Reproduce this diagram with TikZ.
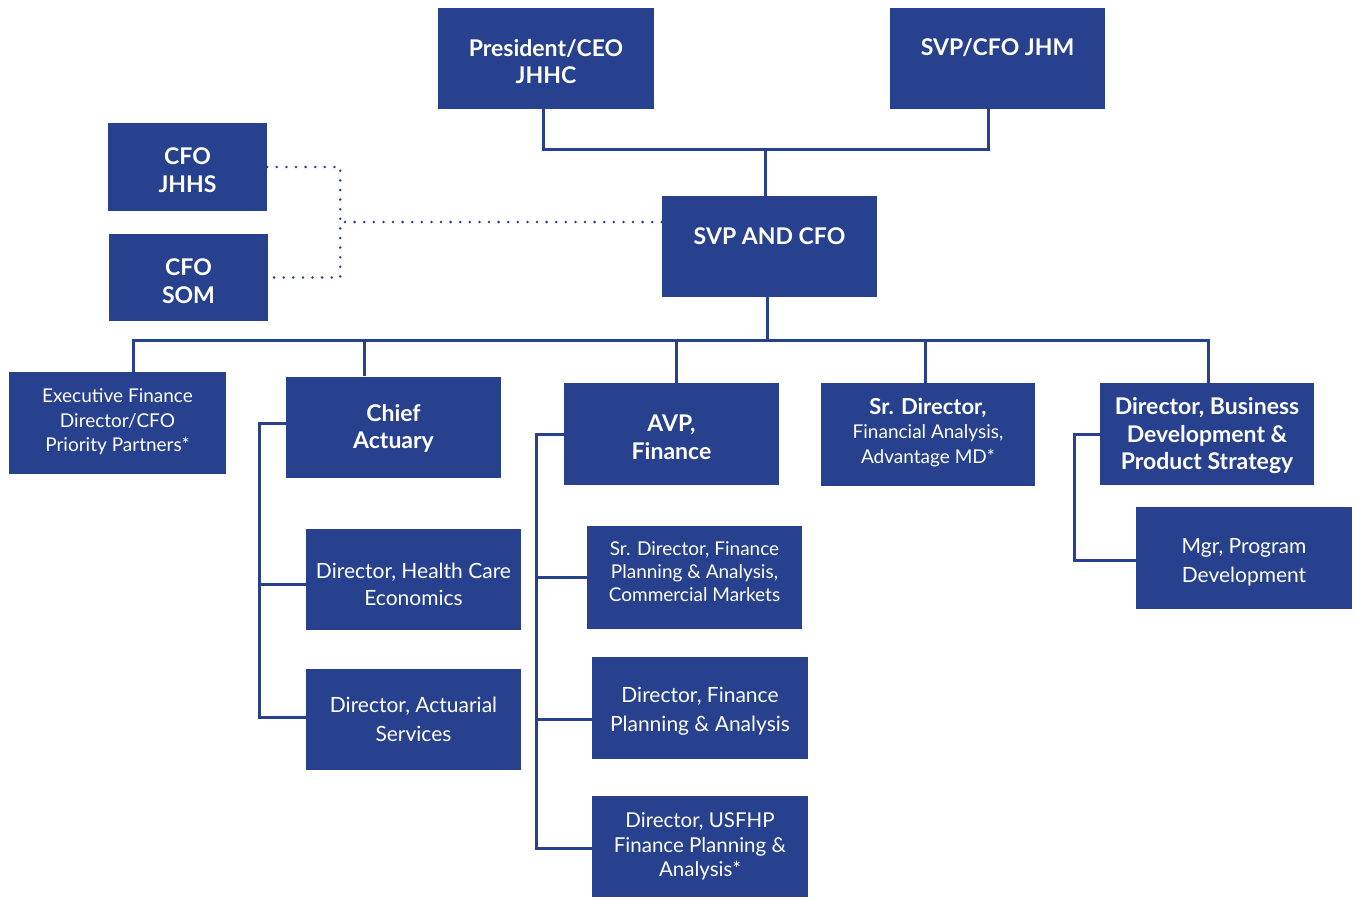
\documentclass[tikz,border=0pt]{standalone}
\usepackage{fontspec}
\setmainfont{Lato}
\definecolor{jhblue}{RGB}{39,65,142}
\tikzset{
  bx/.style={fill=jhblue, draw=none, inner sep=0pt},
  rtxt/.style={text=white, align=center, inner sep=0pt, font=\fontsize{19}{24.5}\selectfont},
  btxt/.style={text=white, align=center, inner sep=0pt, font=\fontsize{23}{27.5}\selectfont\bfseries},
  conn/.style={draw=jhblue, line width=3pt},
  dotline/.style={draw=jhblue, line width=2.8pt, line cap=round, dash pattern=on 0pt off 9.6pt},
}
\begin{document}
\begin{tikzpicture}[x=1pt,y=-1pt]
\useasboundingbox (0,0) rectangle (1356,899);
% nodes
\node[bx, minimum width=216pt, minimum height=101pt,
  label={[btxt, yshift=-3pt]center:{President/CEO\\JHHC}}] (pres) at (546,58.5) {};
\node[bx, minimum width=215pt, minimum height=101pt,
  label={[btxt, yshift=11pt]center:{SVP/CFO JHM}}] (jhm) at (997.5,58.5) {};
\node[bx, minimum width=159pt, minimum height=88pt,
  label={[btxt, yshift=-3pt, font=\fontsize{23}{28}\selectfont\bfseries]center:{CFO\\JHHS}}] (jhhs) at (187.5,167) {};
\node[bx, minimum width=159pt, minimum height=87pt,
  label={[btxt, yshift=-3.5pt, font=\fontsize{23}{28}\selectfont\bfseries]center:{CFO\\SOM}}] (som) at (188.5,277.5) {};
\node[bx, minimum width=215pt, minimum height=101pt,
  label={[btxt, yshift=10pt]center:{SVP AND CFO}}] (svp) at (769.5,246.5) {};
\node[bx, minimum width=217pt, minimum height=102pt,
  label={[rtxt, yshift=1pt]center:{Executive Finance\\Director/CFO\\Priority Partners*}}] (exec) at (117.5,423) {};
\node[bx, minimum width=215pt, minimum height=101pt,
  label={[btxt, yshift=-1.5pt]center:{Chief\\Actuary}}] (chief) at (393.5,427) {};
\node[bx, minimum width=215pt, minimum height=102pt,
  label={[btxt, yshift=-3.5pt]center:{AVP,\\Finance}}] (avp) at (671.5,434) {};
\node[bx, minimum width=214pt, minimum height=103pt,
  label={[rtxt, yshift=2pt]center:{{\fontsize{22}{24.5}\selectfont\bfseries Sr. Director,}\\Financial Analysis,\\Advantage MD*}}] (srdir) at (928,434.5) {};
\node[bx, minimum width=214pt, minimum height=102pt,
  label={[btxt, yshift=-2pt]center:{Director, Business\\Development \&\\Product Strategy}}] (bus) at (1207,434) {};
\node[bx, minimum width=216pt, minimum height=102pt,
  label={[rtxt, yshift=-4pt, font=\fontsize{21}{29}\selectfont]center:{Mgr, Program\\Development}}] (mgr) at (1244,558) {};
\node[bx, minimum width=215pt, minimum height=101pt,
  label={[rtxt, yshift=-5pt, font=\fontsize{21}{27}\selectfont]center:{Director, Health Care\\Economics}}] (hce) at (413.5,579.5) {};
\node[bx, minimum width=215pt, minimum height=101pt,
  label={[rtxt, yshift=0pt, font=\fontsize{21}{28.5}\selectfont]center:{Director, Actuarial\\Services}}] (act) at (413.5,719.5) {};
\node[bx, minimum width=215pt, minimum height=103pt,
  label={[rtxt, yshift=5.5pt, font=\fontsize{19}{23}\selectfont]center:{Sr. Director, Finance\\Planning \& Analysis,\\Commercial Markets}}] (srfpa) at (694.5,577.5) {};
\node[bx, minimum width=216pt, minimum height=102pt,
  label={[rtxt, yshift=-3pt, font=\fontsize{21}{29}\selectfont]center:{Director, Finance\\Planning \& Analysis}}] (fpa) at (700,708) {};
\node[bx, minimum width=216pt, minimum height=101pt,
  label={[rtxt, yshift=0pt, font=\fontsize{20.5}{24.5}\selectfont]center:{Director, USFHP\\Finance Planning \&\\Analysis*}}] (usfhp) at (700,846.5) {};
% connectors top
\draw[conn] ([xshift=-3pt]pres.south) -- ++(0,40) coordinate (t1) -| ([xshift=-9.5pt]jhm.south);
\draw[conn] ([xshift=-4.5pt]svp.north) -- ([xshift=-4.5pt]svp.north |- t1);
% second level bar
\coordinate (bar) at (0,340);
\draw[conn] ([xshift=15.5pt]exec.north) |- ([xshift=1pt]bus.north |- bar) -- ([xshift=1pt]bus.north);
\draw[conn] ([xshift=-2.5pt]svp.south) -- ([xshift=-2.5pt]svp.south |- bar);
\draw[conn] ([xshift=-29.5pt]chief.north) -- ([xshift=-29.5pt]chief.north |- bar);
\draw[conn] ([xshift=4.5pt]avp.north) -- ([xshift=4.5pt]avp.north |- bar);
\draw[conn] ([xshift=-3pt]srdir.north) -- ([xshift=-3pt]srdir.north |- bar);
% chief actuary subtree
\draw[conn] ([yshift=4pt]chief.west) -- ++(-26,0) coordinate (cv) |- ([yshift=2.5pt]act.west);
\draw[conn] ([yshift=-4.5pt]hce.west) -- ([yshift=-4.5pt]hce.west -| cv);
% avp subtree
\draw[conn] (avp.west) -- ++(-27,0) coordinate (av) |- ([yshift=-1.5pt]usfhp.west);
\draw[conn] (srfpa.west) -- (srfpa.west -| av);
\draw[conn] ([yshift=-11pt]fpa.west) -- ([yshift=-11pt]fpa.west -| av);
% business subtree
\draw[conn] (bus.west) -- ++(-25,0) |- ([yshift=-2pt]mgr.west);
% dotted
\draw[dotline] (jhhs.east) -- ++(73,0) coordinate (dv) |- (som.east);
\draw[dotline] ([yshift=24.5pt]svp.west) -- ([yshift=24.5pt]svp.west -| dv);
\end{tikzpicture}
\end{document}
